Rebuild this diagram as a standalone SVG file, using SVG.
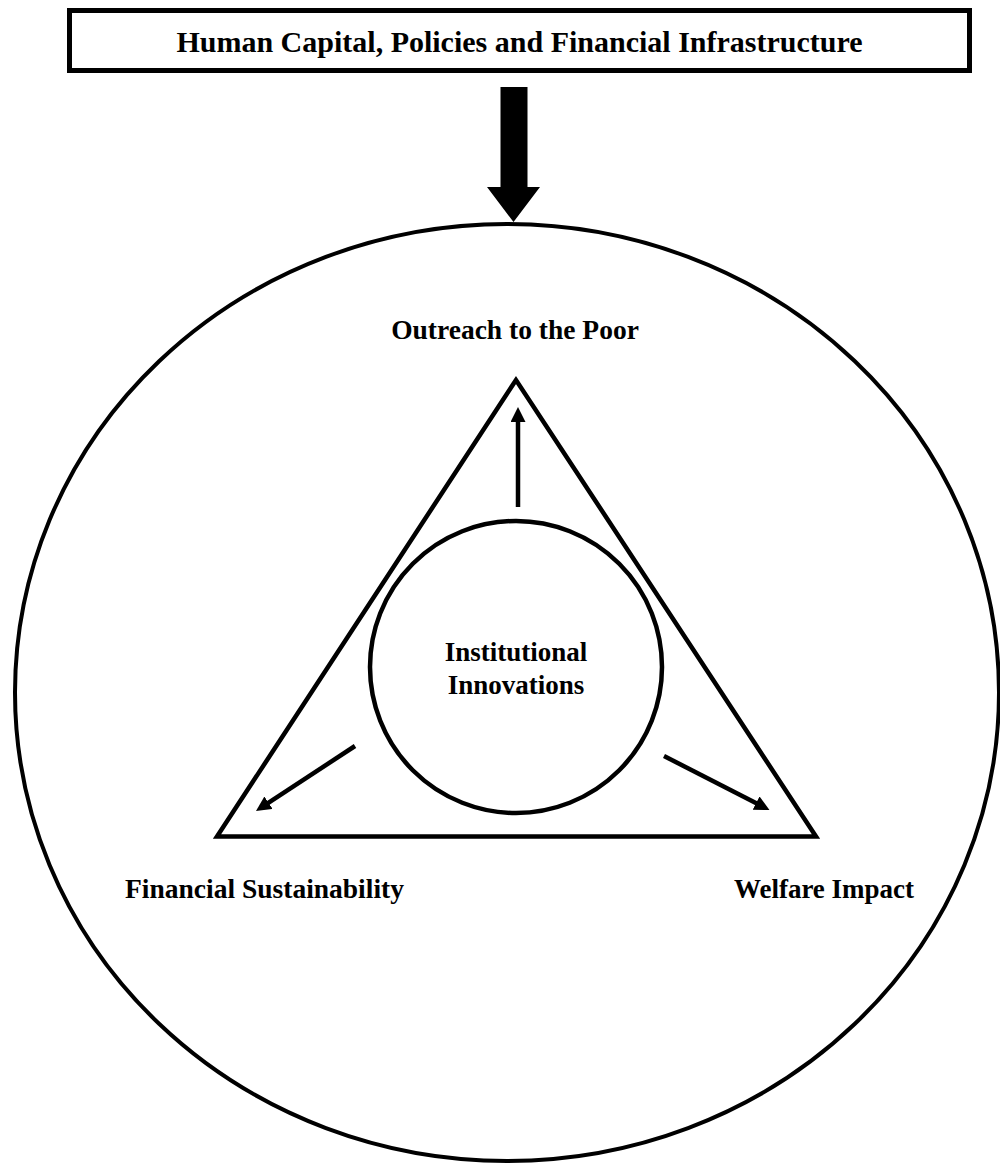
<svg xmlns="http://www.w3.org/2000/svg" width="1000" height="1164" viewBox="0 0 1000 1164">
<style>
.t{font-family:"Liberation Serif","Times New Roman",serif;font-weight:bold;fill:#000;text-anchor:middle}
.s{fill:none;stroke:#000}
.c{stroke:#000;stroke-width:4.5;fill:none}
</style>
<defs>
<marker id="ah" markerUnits="userSpaceOnUse" markerWidth="16" markerHeight="16" refX="3" refY="7.5" orient="auto">
<path d="M0,0 L15,7.5 L0,15 z" fill="#000"/>
</marker>
</defs>
<rect width="1000" height="1164" fill="#fff"/>
<g id="top-box">
<rect class="s" x="69.5" y="10.5" width="900" height="60" stroke-width="5" fill="#fff"/>
<text class="t" x="519.5" y="52" font-size="30">Human Capital, Policies and Financial Infrastructure</text>
</g>
<g id="big-arrow">
<polygon points="500.5,87 527.5,87 527.5,187 540,187 513.5,222 487,187 500.5,187" fill="#000"/>
</g>
<g id="outer-circle">
<ellipse class="s" cx="507" cy="692.5" rx="492" ry="468.5" stroke-width="4"/>
</g>
<g id="triangle">
<polygon class="s" points="516,380 217,836.5 816,836.5" stroke-width="4.5" stroke-linejoin="miter"/>
</g>
<g id="institutional-innovations">
<circle class="s" cx="516" cy="667" r="146" stroke-width="4.5"/>
<text class="t" x="516" y="661" font-size="27">Institutional</text>
<text class="t" x="516" y="694" font-size="27">Innovations</text>
</g>
<g id="outreach"><text class="t" x="515" y="339" font-size="27.5">Outreach to the Poor</text></g>
<g id="financial-sustainability"><text class="t" x="264.5" y="898" font-size="27.5">Financial Sustainability</text></g>
<g id="welfare-impact"><text class="t" x="824" y="898" font-size="27">Welfare Impact</text></g>
<g id="connectors">
<line class="c" x1="518" y1="507" x2="518" y2="419" marker-end="url(#ah)"/>
<line class="c" x1="355" y1="746" x2="266" y2="804.4" marker-end="url(#ah)"/>
<line class="c" x1="664" y1="756" x2="758.8" y2="804.5" marker-end="url(#ah)"/>
</g>
</svg>
